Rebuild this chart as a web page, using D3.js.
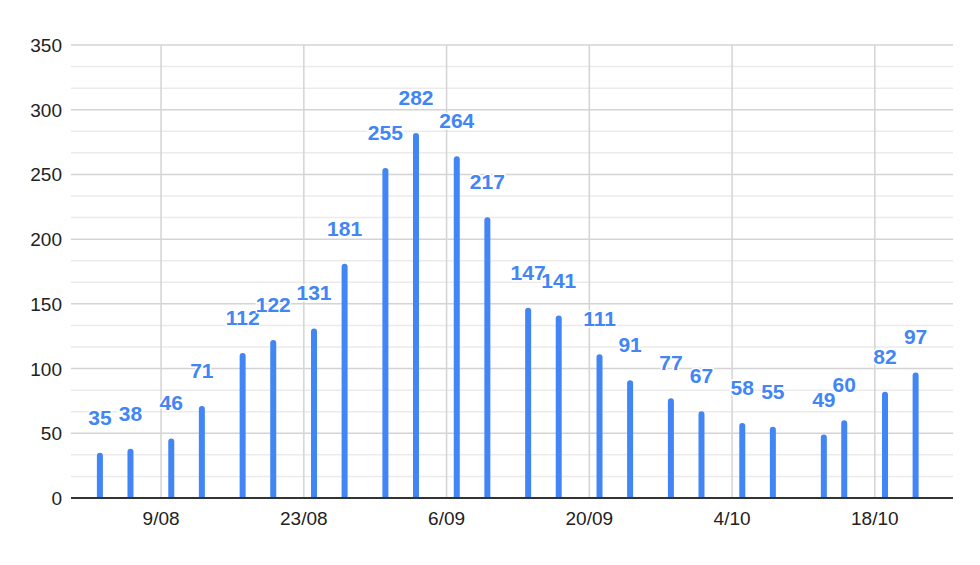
<!DOCTYPE html>
<html><head><meta charset="utf-8">
<script src="https://cdn.jsdelivr.net/npm/d3@7"></script>
<style>body{margin:0;background:#fff}svg{display:block}</style>
</head><body>
<svg id="c" width="980" height="565"></svg>
<script>
const dates = ["2020-08-03","2020-08-06","2020-08-10","2020-08-13","2020-08-17","2020-08-20","2020-08-24","2020-08-27","2020-08-31","2020-09-03","2020-09-07","2020-09-10","2020-09-14","2020-09-17","2020-09-21","2020-09-24","2020-09-28","2020-10-01","2020-10-05","2020-10-08","2020-10-13","2020-10-15","2020-10-19","2020-10-22"];
const values = [35,38,46,71,112,122,131,181,255,282,264,217,147,141,111,91,77,67,58,55,49,60,82,97];
const xTicks = ["2020-08-09","2020-08-23","2020-09-06","2020-09-20","2020-10-04","2020-10-18"];
const xTickLabels = ["9/08","23/08","6/09","20/09","4/10","18/10"];
const yTicks = [0,50,100,150,200,250,300,350];

const parse = d3.utcParse("%Y-%m-%d");
const svg = d3.select("#c");
const L = 71, R = 953, T = 45, B = 498;
const x = d3.scaleUtc().domain([new Date(Date.UTC(2020,6,31,4)), new Date(Date.UTC(2020,9,25,16))]).range([L, R]);
const y = d3.scaleLinear().domain([0, 350]).range([B, T]);
const FONT = "Liberation Sans, Arial, sans-serif";

// minor gridlines
const minor = d3.range(0, 350, 50).flatMap(v => [v + 50/3, v + 100/3]);
svg.append("g").selectAll("line").data(minor).join("line")
  .attr("x1", L).attr("x2", R).attr("y1", d => y(d)).attr("y2", d => y(d))
  .attr("stroke", "#ebebeb").attr("stroke-width", 1.5);
// major horizontal
svg.append("g").selectAll("line").data(yTicks.filter(d => d > 0)).join("line")
  .attr("x1", L).attr("x2", R).attr("y1", d => y(d)).attr("y2", d => y(d))
  .attr("stroke", "#d4d4d4").attr("stroke-width", 1.5);
// vertical gridlines
svg.append("g").selectAll("line").data(xTicks).join("line")
  .attr("x1", d => x(parse(d))).attr("x2", d => x(parse(d))).attr("y1", T).attr("y2", B)
  .attr("stroke", "#d4d4d4").attr("stroke-width", 1.5);

// y labels
svg.append("g").selectAll("text").data(yTicks).join("text")
  .attr("x", 62).attr("y", d => y(d) + 7).attr("text-anchor", "end")
  .attr("font-family", FONT).attr("font-size", 19).attr("fill", "#222")
  .text(d => d);
// x labels
svg.append("g").selectAll("text").data(xTicks).join("text")
  .attr("x", d => x(parse(d))).attr("y", 525).attr("text-anchor", "middle")
  .attr("font-family", FONT).attr("font-size", 19).attr("fill", "#222")
  .text((d, i) => xTickLabels[i]);

// bars with rounded tops
const bw = 6, r = 3;
svg.append("g").selectAll("path").data(values).join("path")
  .attr("fill", "#4285f4")
  .attr("d", (v, i) => {
    const cx = x(parse(dates[i])), x0 = cx - bw/2, x1 = cx + bw/2, yt = y(v);
    return `M${x0},${B}V${yt + r}A${r},${r} 0 0 1 ${x1},${yt + r}V${B}Z`;
  });

// axis line
svg.append("line").attr("x1", L).attr("x2", R).attr("y1", B).attr("y2", B)
  .attr("stroke", "#333").attr("stroke-width", 2);

// value labels
svg.append("g").selectAll("text").data(values).join("text")
  .attr("x", (v, i) => x(parse(dates[i]))).attr("y", v => y(v) - 28)
  .attr("text-anchor", "middle")
  .attr("font-family", FONT).attr("font-size", 21).attr("font-weight", "bold")
  .attr("fill", "#4285f4").attr("stroke", "#fff").attr("stroke-width", 3).attr("paint-order", "stroke")
  .text(v => v);
</script>
</body></html>
